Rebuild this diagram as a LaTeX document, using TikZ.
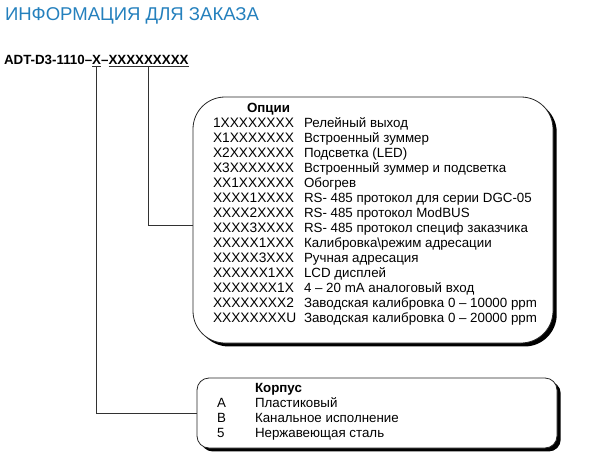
\documentclass[tikz,border=0pt]{standalone}
\usepackage{fontspec}
\setmainfont{Liberation Sans}
\usepackage{tikz}
\usepackage{xcolor}
\usetikzlibrary{positioning, shadows}
\definecolor{cTitle}{RGB}{36,128,189}
\definecolor{cWire}{RGB}{50,50,50}
\tikzset{
	txt/.style    ={inner sep=0pt, outer sep=0pt, anchor=base west},
	codetxt/.style={txt, font=\bfseries},
	ul/.style     ={codetxt, text depth=2pt},
	optcode/.style={txt, font=\fontsize{10.3}{12}\selectfont},
	optbox/.style ={rectangle, draw=black!85, line width=0.6pt, fill=white, minimum width=270pt, minimum height=184.5pt, rounded corners=24pt, drop shadow={shadow xshift=2.8pt, shadow yshift=-2.6pt, fill=black, opacity=1}},
	corpbox/.style={optbox, minimum height=52.5pt, rounded corners=9pt},
	wire/.style   ={draw=cWire, line width=0.6pt},
}

\begin{document}
\begin{tikzpicture}[x=0.75pt, y=-0.75pt, font=\fontsize{10}{12}\selectfont]
	\useasboundingbox (0,0) rectangle (600,457);
	% title
	\node[txt, text=cTitle, font=\fontsize{13.9}{16}\selectfont] (title) at (5,20) {ИНФОРМАЦИЯ ДЛЯ ЗАКАЗА};
	% order code
	\node[codetxt] (pre) at (4,64) {ADT-D3-1110–};
	\node[ul] (xa) at (pre.base east) {X};
	\node[codetxt] (dash) at (xa.base east) {–};
	\node[ul] (xb) at (dash.base east) {XXXXXXXXX};
	\draw[wire] (xa.south west) -- (xa.south east);
	\draw[wire] (xb.south west) -- (xb.south east);
	% boxes
	\node[optbox] (opts) at (373,220) {};
	\node[corpbox] (corp) at (377,413) {};
	% options
	\node[txt, font=\bfseries] (ohdr) at (247,112) {Опции};
	\foreach \code/\desc [count=\i] in {
		1XXXXXXXX/Релейный выход,
		X1XXXXXXX/Встроенный зуммер,
		X2XXXXXXX/Подсветка (LED),
		X3XXXXXXX/Встроенный зуммер и подсветка,
		XX1XXXXXX/Обогрев,
		XXXX1XXXX/RS- 485 протокол для серии DGC-05,
		XXXX2XXXX/RS- 485 протокол ModBUS,
		XXXX3XXXX/RS- 485 протокол специф заказчика,
		XXXXX1XXX/Калибровка\textbackslash режим адресации,
		XXXXX3XXX/Ручная адресация,
		XXXXXX1XX/LCD дисплей,
		XXXXXXX1X/4 – 20 mA аналоговый вход,
		XXXXXXXX2/Заводская калибровка 0 – 10000 ppm,
		XXXXXXXXU/Заводская калибровка 0 – 20000 ppm}
	{
		\node[optcode] (oc\i) at (213,112.7+15*\i) {\code};
		\node[txt] (od\i) at (304,112.7+15*\i) {\desc};
	}
	% housing
	\node[txt, font=\bfseries] (chdr) at (255,392) {Корпус};
	\foreach \code/\desc [count=\i] in {A/Пластиковый, B/Канальное исполнение, 5/Нержавеющая сталь}
	{
		\node[txt] (cc\i) at (217,392+15*\i) {\code};
		\node[txt] (cd\i) at (255,392+15*\i) {\desc};
	}
	% connectors
	\draw[wire] (xa.south) |- (corp.west);
	\draw[wire] (xb.south) |- ([yshift=-3.75pt]opts.west);
\end{tikzpicture}
\end{document}
